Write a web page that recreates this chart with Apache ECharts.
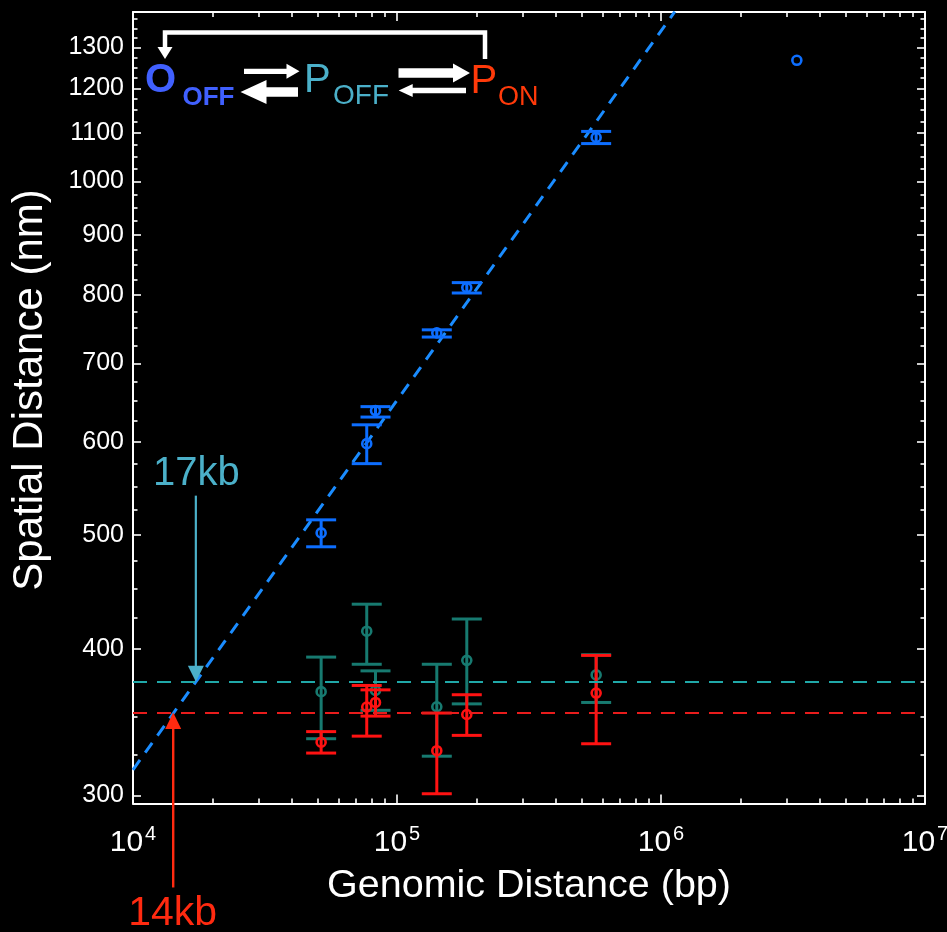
<!DOCTYPE html>
<html>
<head>
<meta charset="utf-8">
<script src="https://cdn.jsdelivr.net/npm/echarts@6/dist/echarts.min.js"></script>
<style>
  html, body { margin: 0; padding: 0; background: #000; }
  #chart { width: 947px; height: 932px; }
</style>
</head>
<body>
<div id="chart"></div>
<script>
// Genomic separation of each probe pair (bp)
const genomicDistance = [51600, 76800, 82900, 141500, 183800, 568000];

// O_OFF state: mean spatial distance (nm) with error-bar limits
const offX    = [51600, 76800, 82900, 141500, 183800, 568000, 3270000];
const offMean = [502, 598, 638, 743, 812, 1090, 1268];
const offLow  = [488.5, 575, 630, 737, 803.5, 1077, null];
const offHigh = [515, 620.5, 643, 747.5, 820, 1103, null];

// P_OFF state
const poffMean = [367.7, 414, 368.6, 357, 391, 380];
const poffLow  = [335.3, 388, 354.5, 324, 359, 360];
const poffHigh = [393.5, 436.5, 383, 388, 424, 395.3];

// P_ON state
const ponMean = [333, 356.8, 360, 327.5, 351.6, 366.7];
const ponLow  = [326, 337, 350.5, 301, 337.5, 332];
const ponHigh = [340, 372.2, 369, 352.6, 365.5, 394.8];

// Power-law fit through the O_OFF points (two end points of the line)
const fitX = [10000, 1128000];
const fitY = [315.5, 1395];

// Plateau levels of the two P states (nm)
const poffLevel = 375;
const ponLevel = 353;

// Crossings of the fit with the plateaus
const crossX = [17300, 14200];
const crossY = [375, 353];
const crossLabel = ['17kb', '14kb'];

// Axis ticks
const xMajor = [1e4, 1e5, 1e6, 1e7];
const yMajor = [300, 400, 500, 600, 700, 800, 900, 1000, 1100, 1200, 1300];
const xMinor = [];
[1e4, 1e5, 1e6].forEach(d => { for (let k = 2; k <= 9; k++) xMinor.push(k * d); });
const yMinor = [];
for (let v = 325; v <= 1375; v += 25) if (v % 100 !== 0) yMinor.push(v);

const FONT = '"Liberation Sans", Arial, Helvetica, sans-serif';
const WHITE = '#ffffff';
const C_OFF = '#0d6eff';
const C_FIT = '#1a8cff';
const C_POFF = '#177a70';
const C_POFF_LINE = '#20a8a8';
const C_PON = '#ff1212';
const C_PON_LINE = '#e81c1c';
const C_17 = '#4bb0c9';
const C_14 = '#ff2a10';

function errorSeries(name, xs, mean, low, high, color, z) {
  return {
    type: 'custom',
    name: name,
    z: z,
    clip: false,
    xAxisIndex: 0,
    yAxisIndex: 0,
    data: xs.map((x, i) => [x, mean[i], low[i], high[i]]),
    encode: { x: 0, y: 1 },
    renderItem: function (params, api) {
      const c = api.coord([api.value(0), api.value(1)]);
      const lo = api.value(2), hi = api.value(3);
      const children = [];
      const lw = 3, half = 15;
      if (isFinite(lo) && isFinite(hi) && lo > 0 && hi > 0) {
        const pl = api.coord([api.value(0), lo]);
        const ph = api.coord([api.value(0), hi]);
        const st = { stroke: color, lineWidth: lw, fill: null };
        children.push({ type: 'line', shape: { x1: c[0], y1: ph[1], x2: c[0], y2: pl[1] }, style: st });
        children.push({ type: 'line', shape: { x1: c[0] - half, y1: ph[1], x2: c[0] + half, y2: ph[1] }, style: st });
        children.push({ type: 'line', shape: { x1: c[0] - half, y1: pl[1], x2: c[0] + half, y2: pl[1] }, style: st });
      }
      children.push({ type: 'circle', shape: { cx: c[0], cy: c[1], r: 4.5 }, style: { stroke: color, lineWidth: 2.6, fill: null } });
      return { type: 'group', children: children };
    }
  };
}

function arrowPoly(tail, tip, yc, shaft, headLen, headH) {
  const d = Math.sign(tip - tail);
  const base = tip - d * headLen;
  return [
    [tail, yc - shaft / 2], [base, yc - shaft / 2], [base, yc - headH / 2],
    [tip, yc], [base, yc + headH / 2], [base, yc + shaft / 2], [tail, yc + shaft / 2]
  ];
}

const xCommon = {
  type: 'log', logBase: 10, min: 1e4, max: 1e7, gridIndex: 0,
  splitLine: { show: false }, minorTick: { show: false }, minorSplitLine: { show: false }
};
const yCommon = {
  type: 'log', logBase: 10, min: 295.3, max: 1394, gridIndex: 0,
  splitLine: { show: false }, minorTick: { show: false }, minorSplitLine: { show: false }
};
const frameLine = { show: true, onZero: false, lineStyle: { color: WHITE, width: 2 } };
const tickStyle = { color: WHITE, width: 1.6 };

const option = {
  backgroundColor: '#000000',
  animation: false,
  textStyle: { fontFamily: FONT },
  grid: { left: 133, top: 12, width: 792, height: 791.5, containLabel: false, outerBoundsMode: 'none' },
  xAxis: [
    Object.assign({}, xCommon, {
      position: 'bottom', axisLine: frameLine,
      axisTick: { show: true, inside: true, length: 9, lineStyle: tickStyle, customValues: xMajor },
      axisLabel: {
        show: true, customValues: xMajor, margin: 21, color: WHITE, hideOverlap: false,
        formatter: v => '{b|10}{s|' + Math.round(Math.log10(v)) + '}',
        rich: {
          b: { fontSize: 30, lineHeight: 36, color: WHITE, fontFamily: FONT },
          s: { fontSize: 20, lineHeight: 18, verticalAlign: 'top', color: WHITE, fontFamily: FONT, padding: [0, 0, 0, 2] }
        }
      }
    }),
    Object.assign({}, xCommon, {
      position: 'bottom', axisLine: { show: false },
      axisTick: { show: true, inside: true, length: 5, lineStyle: tickStyle, customValues: xMinor },
      axisLabel: { show: false }
    }),
    Object.assign({}, xCommon, {
      position: 'top', axisLine: frameLine,
      axisTick: { show: true, inside: true, length: 9, lineStyle: tickStyle, customValues: xMajor },
      axisLabel: { show: false }
    }),
    Object.assign({}, xCommon, {
      position: 'top', axisLine: { show: false },
      axisTick: { show: true, inside: true, length: 5, lineStyle: tickStyle, customValues: xMinor },
      axisLabel: { show: false }
    })
  ],
  yAxis: [
    Object.assign({}, yCommon, {
      position: 'left', axisLine: frameLine,
      axisTick: { show: true, inside: true, length: 8, lineStyle: tickStyle, customValues: yMajor },
      axisLabel: {
        show: true, customValues: yMajor, margin: 9, color: WHITE, fontSize: 25, fontFamily: FONT,
        hideOverlap: false, formatter: v => String(Math.round(v))
      }
    }),
    Object.assign({}, yCommon, {
      position: 'left', axisLine: { show: false },
      axisTick: { show: true, inside: true, length: 4.5, lineStyle: tickStyle, customValues: yMinor },
      axisLabel: { show: false }
    }),
    Object.assign({}, yCommon, {
      position: 'right', axisLine: frameLine,
      axisTick: { show: true, inside: true, length: 8, lineStyle: tickStyle, customValues: yMajor },
      axisLabel: { show: false }
    }),
    Object.assign({}, yCommon, {
      position: 'right', axisLine: { show: false },
      axisTick: { show: true, inside: true, length: 4.5, lineStyle: tickStyle, customValues: yMinor },
      axisLabel: { show: false }
    })
  ],
  series: [
    {
      type: 'line', name: 'fit', xAxisIndex: 0, yAxisIndex: 0, z: 2,
      data: fitX.map((x, i) => [x, fitY[i]]),
      showSymbol: false, symbol: 'none', clip: true,
      lineStyle: { color: C_FIT, width: 3, type: [12, 9] },
      markLine: {
        silent: true, symbol: 'none', label: { show: false },
        data: [
          { yAxis: poffLevel, lineStyle: { color: C_POFF_LINE, width: 2, type: [14, 10] } },
          { yAxis: ponLevel, lineStyle: { color: C_PON_LINE, width: 2, type: [14, 10] } }
        ]
      }
    },
    errorSeries('P_OFF', genomicDistance, poffMean, poffLow, poffHigh, C_POFF, 3),
    errorSeries('P_ON', genomicDistance, ponMean, ponLow, ponHigh, C_PON, 4),
    errorSeries('O_OFF', offX, offMean, offLow, offHigh, C_OFF, 5),
    {
      type: 'custom', name: 'crossings', xAxisIndex: 0, yAxisIndex: 0, z: 6, clip: false,
      data: crossX.map((x, i) => [x, crossY[i], i]),
      encode: { x: 0, y: 1 },
      renderItem: function (params, api) {
        const tip = api.coord([api.value(0), api.value(1)]);
        const i = api.value(2);
        const label = crossLabel[i];
        if (i === 0) {
          // label above, arrow pointing down onto the crossing
          return {
            type: 'group', children: [
              { type: 'line', shape: { x1: tip[0], y1: tip[1] - 186, x2: tip[0], y2: tip[1] - 14 }, style: { stroke: C_17, lineWidth: 2.2 } },
              { type: 'polygon', shape: { points: [[tip[0] - 8, tip[1] - 16], [tip[0] + 8, tip[1] - 16], [tip[0], tip[1]]] }, style: { fill: C_17 } },
              { type: 'text', x: tip[0] + 0.5, y: tip[1] - 207.5, style: { text: label, fill: C_17, font: '40px ' + FONT, align: 'center', verticalAlign: 'middle' } }
            ]
          };
        }
        // label below, arrow pointing up onto the crossing
        return {
          type: 'group', children: [
            { type: 'line', shape: { x1: tip[0], y1: tip[1] + 175, x2: tip[0], y2: tip[1] + 14 }, style: { stroke: C_14, lineWidth: 2.4 } },
            { type: 'polygon', shape: { points: [[tip[0] - 8, tip[1] + 16.5], [tip[0] + 8, tip[1] + 16.5], [tip[0], tip[1]]] }, style: { fill: C_14 } },
            { type: 'text', x: tip[0] - 0.5, y: tip[1] + 201, style: { text: label, fill: C_14, font: '41px ' + FONT, align: 'center', verticalAlign: 'middle' } }
          ]
        };
      }
    }
  ],
  graphic: [
    // axis titles
    { type: 'text', x: 529, y: 886.5, z: 10, style: { text: 'Genomic Distance (bp)', fill: WHITE, font: '39.5px ' + FONT, align: 'center', verticalAlign: 'middle' } },
    { type: 'text', x: 30, y: 390, rotation: Math.PI / 2, z: 10, style: { text: 'Spatial Distance (nm)', fill: WHITE, font: '42px ' + FONT, align: 'center', verticalAlign: 'middle' } },
    // state scheme
    { type: 'text', x: 145, y: 81.2, z: 10, style: { text: 'O', fill: '#4060ff', font: 'bold 40px ' + FONT, align: 'left', verticalAlign: 'middle' } },
    { type: 'text', x: 182.5, y: 97.4, z: 10, style: { text: 'OFF', fill: '#4060ff', font: 'bold 26px ' + FONT, align: 'left', verticalAlign: 'middle' } },
    { type: 'text', x: 304, y: 81.4, z: 10, style: { text: 'P', fill: C_17, font: '40px ' + FONT, align: 'left', verticalAlign: 'middle' } },
    { type: 'text', x: 333, y: 96.5, z: 10, style: { text: 'OFF', fill: C_17, font: '28px ' + FONT, align: 'left', verticalAlign: 'middle' } },
    { type: 'text', x: 470.5, y: 81.7, z: 10, style: { text: 'P', fill: '#ff3a0a', font: '40px ' + FONT, align: 'left', verticalAlign: 'middle' } },
    { type: 'text', x: 498, y: 97.4, z: 10, style: { text: 'ON', fill: '#ff3a0a', font: '27px ' + FONT, align: 'left', verticalAlign: 'middle' } },
    { type: 'polygon', z: 10, shape: { points: arrowPoly(244, 299.5, 71.3, 5.3, 13, 15) }, style: { fill: WHITE } },
    { type: 'polygon', z: 10, shape: { points: arrowPoly(298, 240.5, 92, 9.5, 26, 24) }, style: { fill: WHITE } },
    { type: 'polygon', z: 10, shape: { points: arrowPoly(398.5, 470, 73, 9.5, 17, 19) }, style: { fill: WHITE } },
    { type: 'polygon', z: 10, shape: { points: arrowPoly(466, 398.7, 90.5, 5.4, 14, 13) }, style: { fill: WHITE } },
    { type: 'polyline', z: 10, shape: { points: [[485, 59], [485, 32.5], [165, 32.5], [165, 48]] }, style: { stroke: WHITE, lineWidth: 4.5, fill: null } },
    { type: 'polygon', z: 10, shape: { points: [[157.5, 47], [172.5, 47], [165, 59]] }, style: { fill: WHITE } }
  ]
};

const chart = echarts.init(document.getElementById('chart'), null, { renderer: 'canvas' });
chart.setOption(option);
</script>
</body>
</html>
